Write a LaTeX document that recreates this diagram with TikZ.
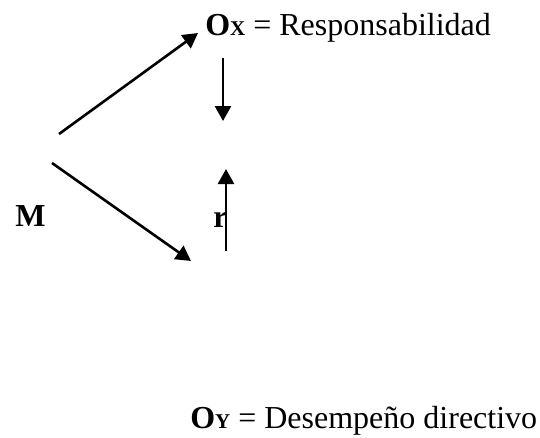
\documentclass[tikz,border=0pt]{standalone}
\usepackage{fontspec}
\setmainfont{Liberation Serif}
\usetikzlibrary{arrows.meta}

\tikzset{every picture/.style={line width=2.6pt}}
\tikzset{
  flecha/.style={-{Triangle[length=15pt,width=16pt]}},
  rotulo/.style={anchor=base west,inner sep=0pt,font=\fontsize{32}{38}\selectfont},
}
\newcommand{\chica}[1]{{\fontsize{21}{24}\selectfont #1}}

\begin{document}
\begin{tikzpicture}[x=1pt,y=1pt,yscale=-1,xscale=1]
            \useasboundingbox (0,0) rectangle (540,437);

            % Text Node
            \node [rotulo] (ox) at (204,35) {\textbf{O\chica{X}} = Responsabilidad};
            % Text Node
            \node [rotulo] (oy) at (189,428) {\textbf{O\chica{Y}} = Desempeño directivo};
            % Text Node
            \node [rotulo] (m) at (14,226) {\textbf{M}};
            % Text Node
            \node [rotulo] (r) at (212,227) {\textbf{r}};

            \coordinate (mArriba) at (59,134);
            \coordinate (mAbajo) at (52,163);
            \coordinate (oxPunta) at (198,33);
            \coordinate (oxBase) at (223,58);
            \coordinate (centroArriba) at (223,121);
            \coordinate (centroAbajo) at (226,169);
            \coordinate (rBase) at (226,251);
            \coordinate (oyPunta) at (191,261);

            %Straight Lines
            \draw [flecha] (mArriba) -- (oxPunta);
            %Straight Lines
            \draw [flecha] (mAbajo) -- (oyPunta);
            %Straight Lines
            \draw [flecha] (oxBase) -- (centroArriba);
            %Straight Lines
            \draw [flecha] (rBase) -- (centroAbajo);

\end{tikzpicture}
\end{document}
